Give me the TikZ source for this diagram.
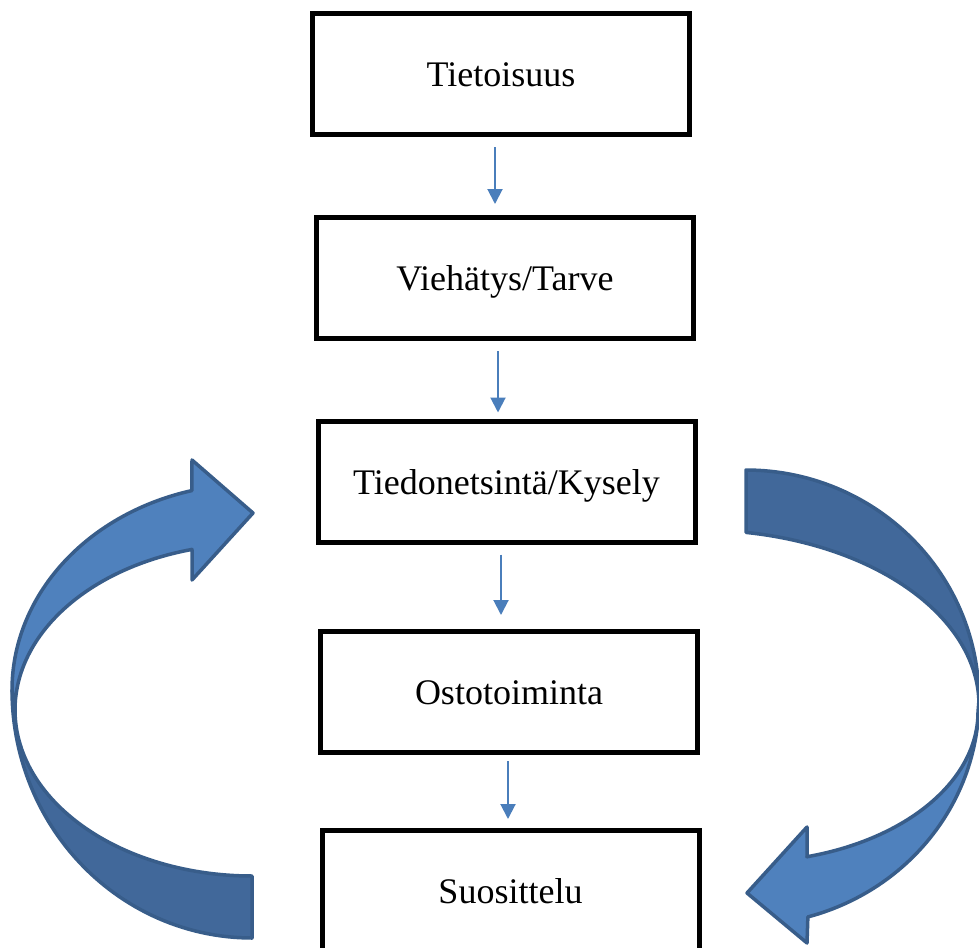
\documentclass[tikz,border=0pt]{standalone}
\usepackage{fontspec}
\setmainfont{Liberation Serif}
\usetikzlibrary{arrows.meta}
\definecolor{stepline}{HTML}{4A7EBB}
\definecolor{bandlight}{HTML}{4F81BD}
\definecolor{banddark}{HTML}{41689A}
\definecolor{bandedge}{HTML}{385D8A}
\tikzset{
  stepbox/.style={draw=black, line width=5pt, fill=white, rectangle,
    minimum width=377pt, minimum height=121pt, inner sep=0pt,
    text height=25pt, text depth=0pt,
    font=\fontsize{36}{42}\selectfont},
  flowarrow/.style={draw=stepline, line width=2pt,
    -{Triangle[width=15pt,length=15pt]}},
  band/.style={draw=bandedge, line width=3.5pt, line join=round}
}
\begin{document}
\begin{tikzpicture}[x=1pt,y=-1pt]
\useasboundingbox (0,0) rectangle (979,947);
\clip (0,0) rectangle (979,947);

% process steps
\node[stepbox] (b1) at (501,74)      {Tietoisuus};
\node[stepbox] (b2) at (505,278)     {Viehätys/Tarve};
\node[stepbox] (b3) at (506.5,481.5) {Tiedonetsintä/Kysely};
\node[stepbox] (b4) at (509,692)     {Ostotoiminta};
\node[stepbox] (b5) at (510.5,891)   {Suosittelu};

% step connectors
\draw[flowarrow, shorten <=10pt, shorten >=11pt]
  ([xshift=-6pt]b1.south) -- ([xshift=-6pt]b1.south |- b2.north);
\draw[flowarrow, shorten <=10pt, shorten >=6pt]
  ([xshift=-7pt]b2.south) -- ([xshift=-7pt]b2.south |- b3.north);
\draw[flowarrow, shorten <=10pt, shorten >=14pt]
  ([xshift=-5.5pt]b3.south) -- ([xshift=-5.5pt]b3.south |- b4.north);
\draw[flowarrow, shorten <=6pt, shorten >=9pt]
  ([xshift=-1pt]b4.south) -- ([xshift=-1pt]b4.south |- b5.north);

% left feedback arrow: back band
\filldraw[band, fill=banddark]
  plot[domain=270:180, samples=60] ({252+240*cos(\x)}, {690-248*sin(\x)})
  -- plot[domain=180:270, samples=60] ({252+237*cos(\x)}, {710-166*sin(\x)})
  -- cycle;
% left feedback arrow: front band with head
\filldraw[band, fill=bandlight]
  plot[domain=180:104.5, samples=60] ({252+240*cos(\x)}, {690-206*sin(\x)})
  -- (192,460) -- (253,513) -- (192,580) -- (192,550)
  -- plot[domain=104.67:180, samples=60] ({252+237*cos(\x)}, {710-166*sin(\x)})
  -- cycle;

% right feedback arrow: back band
\filldraw[band, fill=banddark]
  plot[domain=90:0, samples=60] ({746+233*cos(\x)}, {700-230*sin(\x)})
  -- plot[domain=0:80.5, samples=60] ({700+279*cos(\x)}, {705-175*sin(\x)})
  -- cycle;
% right feedback arrow: front band with head
\filldraw[band, fill=bandlight]
  plot[domain=0:-74.6, samples=60] ({746+233*cos(\x)}, {700-225*sin(\x)})
  -- (807,943) -- (747,893) -- (807,827) -- (807,857)
  -- plot[domain=-74.8:0, samples=60] ({746+232*cos(\x)}, {712-150*sin(\x)})
  -- cycle;
\end{tikzpicture}
\end{document}
